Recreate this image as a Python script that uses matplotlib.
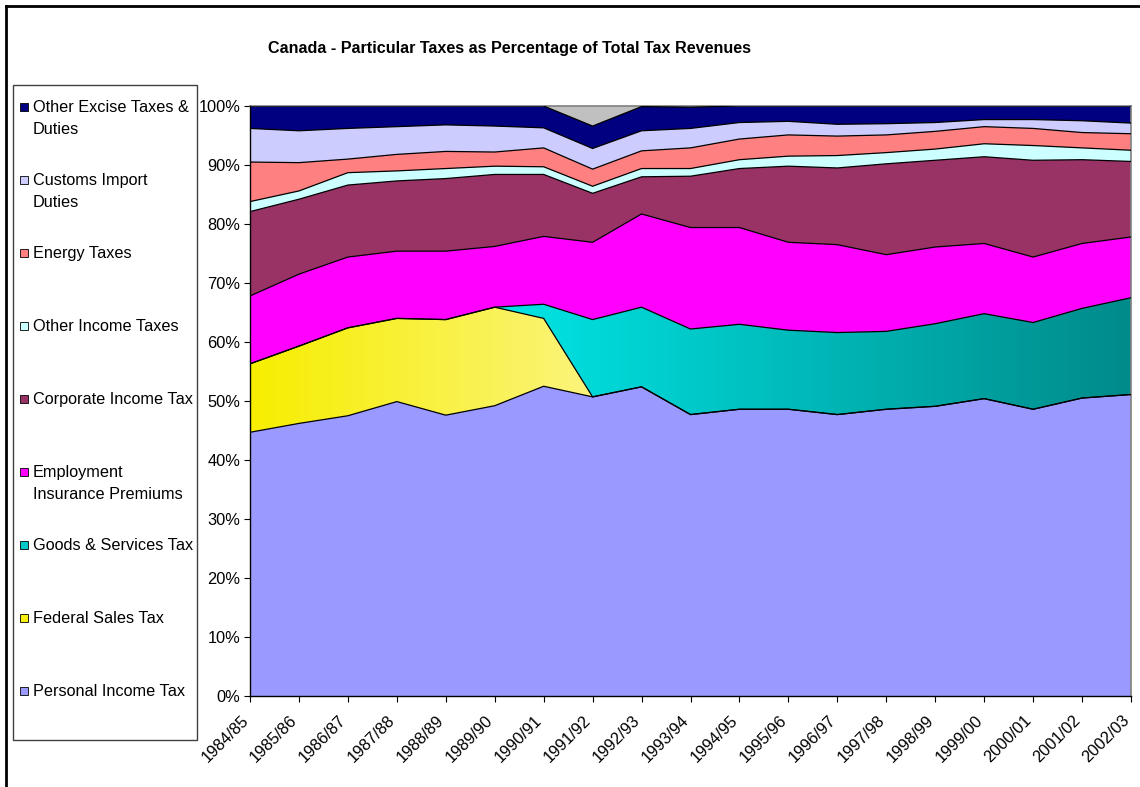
import numpy as np
import matplotlib
matplotlib.use("Agg")
import matplotlib.pyplot as plt
import matplotlib.transforms as mtransforms
from matplotlib.patches import Rectangle
from matplotlib.lines import Line2D
from matplotlib.colors import to_rgb

plt.rcParams["font.family"] = ["Liberation Sans", "DejaVu Sans"]

years = ["1984/85", "1985/86", "1986/87", "1987/88", "1988/89", "1989/90",
         "1990/91", "1991/92", "1992/93", "1993/94", "1994/95", "1995/96",
         "1996/97", "1997/98", "1998/99", "1999/00", "2000/01", "2001/02",
         "2002/03"]

# shares of total tax revenue, % (bottom of the stack first)
personal_income = [44.7, 46.2, 47.5, 49.9, 47.6, 49.2, 52.5, 50.7, 52.4, 47.7,
                   48.6, 48.6, 47.7, 48.6, 49.1, 50.4, 48.6, 50.5, 51.1]
federal_sales = [11.6, 13.1, 14.9, 14.1, 16.2, 16.7, 11.5, 0, 0, 0,
                 0, 0, 0, 0, 0, 0, 0, 0, 0]
goods_services = [0, 0, 0, 0, 0, 0, 2.4, 13.1, 13.5, 14.5,
                  14.4, 13.4, 13.9, 13.2, 14.0, 14.4, 14.7, 15.2, 16.4]
employment_ins = [11.5, 12.2, 12.0, 11.4, 11.6, 10.3, 11.5, 13.1, 15.8, 17.2,
                  16.4, 14.9, 14.9, 13.0, 13.0, 11.9, 11.1, 11.0, 10.3]
corporate_income = [14.3, 12.7, 12.2, 11.9, 12.3, 12.2, 10.5, 8.3, 6.3, 8.7,
                    10.0, 12.9, 13.0, 15.4, 14.7, 14.7, 16.4, 14.2, 12.8]
other_income = [1.7, 1.4, 2.1, 1.7, 1.7, 1.4, 1.3, 1.2, 1.4, 1.3,
                1.5, 1.7, 2.1, 1.9, 1.9, 2.2, 2.5, 2.0, 1.9]
energy = [6.7, 4.8, 2.3, 2.8, 2.9, 2.4, 3.2, 2.9, 3.0, 3.5,
          3.5, 3.6, 3.3, 3.0, 3.0, 2.9, 2.9, 2.6, 2.8]
customs = [5.7, 5.4, 5.2, 4.7, 4.5, 4.4, 3.4, 3.5, 3.4, 3.3,
           2.8, 2.3, 2.0, 1.9, 1.5, 1.2, 1.5, 2.0, 1.8]
other_excise = [3.8, 4.2, 3.8, 3.5, 3.2, 3.4, 3.7, 3.8, 4.1, 3.6,
                2.8, 2.6, 3.1, 3.0, 2.8, 2.3, 2.3, 2.5, 2.9]

series = [personal_income, federal_sales, goods_services, employment_ins,
          corporate_income, other_income, energy, customs, other_excise]
labels = ["Personal Income Tax", "Federal Sales Tax", "Goods & Services Tax",
          "Employment\nInsurance Premiums", "Corporate Income Tax",
          "Other Income Taxes", "Energy Taxes", "Customs Import\nDuties",
          "Other Excise Taxes &\nDuties"]
colors = ["#9999FF", "#F8EE10", "#00C8C8", "#FF00FF", "#993366",
          "#CCFFFF", "#FF8080", "#CCCCFF", "#000080"]

# gradient fills (left colour, right colour, x range) for the two sales taxes
gradients = {1: ("#F7EE00", "#FBF47C", 0, 7),
             2: ("#00E6E6", "#008A8A", 5, 18)}

W, H = 1140, 787
fig = plt.figure(figsize=(W / 100, H / 100), dpi=100)
fig.patch.set_facecolor("white")


def fx(px):
    return px / W


def fy(py):
    return 1 - py / H


ax = fig.add_axes([fx(250), fy(696), fx(1131) - fx(250), fy(106) - fy(696)])
ax.set_facecolor("#C0C0C0")

x = np.arange(len(years))
polys = ax.stackplot(x, *series, colors=colors, linewidth=0, zorder=1)

for idx, (c0, c1, xa, xb) in gradients.items():
    polys[idx].set_facecolor("none")
    t = np.linspace(0, 1, 256)[:, None]
    grad = (1 - t) * np.array(to_rgb(c0)) + t * np.array(to_rgb(c1))
    im = ax.imshow(grad[None, :, :], extent=[xa, xb, 0, 100], aspect="auto",
                   interpolation="bilinear", zorder=1.5)
    im.set_clip_path(polys[idx].get_paths()[0], transform=ax.transData)

cum = np.cumsum(np.array(series), axis=0)
for row in cum:
    ax.plot(x, row, color="black", lw=0.9, zorder=3, solid_joinstyle="miter")

ax.set_xlim(0, len(years) - 1)
ax.set_ylim(0, 100)
ax.set_xticks(x)
ax.set_xticklabels(years, rotation=45, ha="right", va="center",
                   rotation_mode="anchor", fontsize=11.8)
ax.set_yticks(np.arange(0, 101, 10))
ax.set_yticklabels([f"{v}%" for v in range(0, 101, 10)], fontsize=11.8)
ax.tick_params(axis="x", length=4, width=0.8, pad=12, direction="out")
ax.tick_params(axis="y", length=4, width=0.8, pad=3, direction="out")
shift = mtransforms.ScaledTranslation(-4 / 100, 0, fig.dpi_scale_trans)
for lbl in ax.get_xticklabels():
    lbl.set_transform(lbl.get_transform() + shift)
for side in ("left", "bottom"):
    ax.spines[side].set_color("black")
    ax.spines[side].set_linewidth(1)
for side in ("top", "right"):
    ax.spines[side].set_color("#808080")
    ax.spines[side].set_linewidth(1.2)
ax.spines["left"].set_zorder(4)
ax.spines["bottom"].set_zorder(4)

fig.text(fx(510), fy(49), "Canada - Particular Taxes as Percentage of Total Tax Revenues",
         ha="center", va="center", fontsize=11.6, fontweight="bold")

# legend box on the left
fig.add_artist(Rectangle((fx(13), fy(740)), fx(197) - fx(13), fy(85) - fy(740),
                         transform=fig.transFigure, facecolor="white",
                         edgecolor="#404040", lw=1, zorder=0))
for i, idx in enumerate(range(len(labels) - 1, -1, -1)):
    yline = 107 + 73 * i
    fig.add_artist(Rectangle((fx(20), fy(yline + 4)), fx(8), 8 / H,
                             transform=fig.transFigure, facecolor=colors[idx],
                             edgecolor="black", lw=0.6))
    fig.text(fx(33), fy(yline - 7), labels[idx], ha="left", va="top",
             fontsize=11.7, linespacing=1.55)

# outer chart border
fig.add_artist(Line2D([fx(6), fx(6)], [fy(6), 0], transform=fig.transFigure,
                      color="black", lw=2))
fig.add_artist(Line2D([fx(6), 1], [fy(6), fy(6)], transform=fig.transFigure,
                      color="black", lw=2))

fig.savefig("out.png", dpi=100, facecolor="white")
